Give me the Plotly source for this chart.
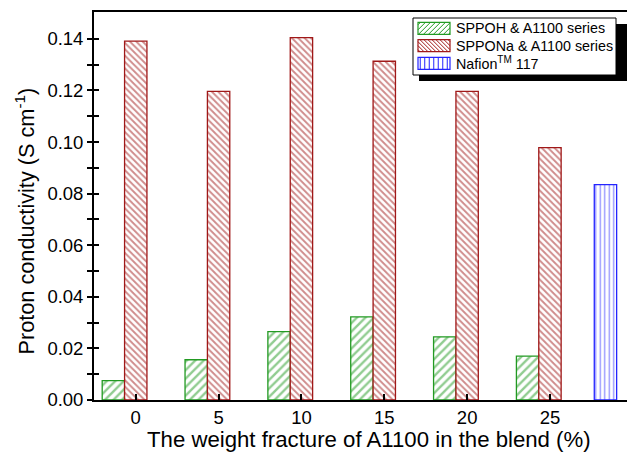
import plotly.graph_objects as go

# A1100 loading (wt%) and measured proton conductivity (S/cm)
a1100_wt = [0, 5, 10, 15, 20, 25]
sppoh = [0.0075, 0.0156, 0.0265, 0.0322, 0.0245, 0.0170]
spponA = [0.1391, 0.1196, 0.1405, 0.1313, 0.1196, 0.0978]
nafion_pos = [28.35]
nafion = [0.0835]

series_names = ["SPPOH &amp; A1100 series", "SPPONa &amp; A1100 series",
                "Nafion<sup>TM</sup> 117"]
y_ticks = [0, 0.02, 0.04, 0.06, 0.08, 0.10, 0.12, 0.14]
y_minor = [0.01, 0.03, 0.05, 0.07, 0.09, 0.11, 0.13]

BAR_W = 1.35
GREEN = "#229a22"
RED = "#a01818"
BLUE = "#2424ff"
FONT = "Liberation Sans, Arial, sans-serif"

X_RANGE = [-2.52, 29.65]
Y_RANGE = [0, 0.1504]

styles = [
    dict(color=GREEN, shape="/", size=6, solidity=0.4),
    dict(color=RED, shape="\\", size=4.5, solidity=0.42),
    dict(color=BLUE, shape="|", size=4.5, solidity=0.3),
]


def marker_for(st):
    return dict(color="white", line=dict(color=st["color"], width=1.3),
                pattern=dict(shape=st["shape"], fgcolor=st["color"],
                             bgcolor="white", size=st["size"],
                             solidity=st["solidity"]))


# ---- plot-area geometry in pixels, used to place the legend and titles ----
PLOT_L, PLOT_R, PLOT_T, PLOT_B = 94, 627, 12, 400


def fx(px):
    return (px - PLOT_L) / (PLOT_R - PLOT_L)


def fy(py):
    return (PLOT_B - py) / (PLOT_B - PLOT_T)


def hatch_path(x0, y0, x1, y1, shape, step):
    """SVG path (paper coords) of hatch lines clipped to a pixel rectangle."""
    segs = []
    if shape == "|":
        x = x0 + step / 2
        while x < x1:
            segs.append(((x, y0), (x, y1)))
            x += step
    else:
        sign = 1 if shape == "/" else -1   # "/" : x + y = c ; "\" : x - y = c
        lo = x0 + sign * y0 if sign == 1 else x0 - y1
        hi = x1 + sign * y1 if sign == 1 else x1 - y0
        c = lo + step / 2
        while c < hi:
            pts = []
            for y in (y0, y1):
                x = c - sign * y
                if x0 <= x <= x1:
                    pts.append((x, y))
            for x in (x0, x1):
                y = (c - x) * sign
                if y0 <= y <= y1:
                    pts.append((x, y))
            if len(pts) >= 2:
                segs.append((pts[0], pts[-1]))
            c += step
    return " ".join(f"M{fx(a[0]):.5f},{fy(a[1]):.5f} L{fx(b[0]):.5f},{fy(b[1]):.5f}"
                    for a, b in segs)


fig = go.Figure()

fig.add_trace(go.Bar(x=a1100_wt, y=sppoh, width=BAR_W, offset=-1.5 * BAR_W,
                     name=series_names[0], marker=marker_for(styles[0]),
                     showlegend=False))
fig.add_trace(go.Bar(x=a1100_wt, y=spponA, width=BAR_W, offset=-0.5 * BAR_W,
                     name=series_names[1], marker=marker_for(styles[1]),
                     showlegend=False))
fig.add_trace(go.Bar(x=nafion_pos, y=nafion, width=BAR_W, offset=-0.5 * BAR_W,
                     name=series_names[2], marker=marker_for(styles[2]),
                     showlegend=False))

# second y axis only to draw the inward half of the crossing ticks
fig.add_trace(go.Scatter(x=[None], y=[None], yaxis="y2", showlegend=False,
                         hoverinfo="skip"))

# legend: drop shadow, white framed box, hatched swatches and labels
BX0, BX1, BY0, BY1, SH = 413, 616, 18, 75, 6
fig.add_shape(type="rect", xref="paper", yref="paper",
              x0=fx(BX0 + SH), x1=fx(627), y0=fy(BY1 + SH), y1=fy(BY0 + SH),
              fillcolor="black", line=dict(width=0), layer="above")
fig.add_shape(type="rect", xref="paper", yref="paper",
              x0=fx(BX0), x1=fx(BX1), y0=fy(BY1), y1=fy(BY0),
              fillcolor="white", line=dict(color="black", width=1),
              layer="above")

SW_X0, SW_X1, SW_H = 418, 450, 12
hatch_step = {"/": 5, "\\": 4, "|": 4.5}
row_py = [28.3, 45.7, 63.3]
for name, st, py in zip(series_names, styles, row_py):
    top, bot = py - SW_H / 2, py + SW_H / 2
    fig.add_shape(type="rect", xref="paper", yref="paper",
                  x0=fx(SW_X0), x1=fx(SW_X1), y0=fy(bot), y1=fy(top),
                  fillcolor="white", line=dict(color=st["color"], width=1.2),
                  layer="above")
    fig.add_shape(type="path", xref="paper", yref="paper",
                  path=hatch_path(SW_X0, top, SW_X1, bot, st["shape"],
                                  hatch_step[st["shape"]]),
                  line=dict(color=st["color"], width=1), layer="above")
    fig.add_annotation(x=fx(454), y=fy(py), xref="paper", yref="paper",
                       text=name, showarrow=False,
                       xanchor="left", yanchor="middle",
                       font=dict(size=14.3, family=FONT, color="black"))

# axis titles
fig.add_annotation(x=fx(368.5), y=fy(439), xref="paper", yref="paper",
                   text="The weight fracture of A1100 in the blend (%)",
                   showarrow=False, xanchor="center", yanchor="middle",
                   font=dict(size=22.2, family=FONT, color="black"))
fig.add_annotation(x=fx(24.5), y=fy(221), xref="paper", yref="paper",
                   text="Proton conductivity (S cm<sup>-1</sup>)",
                   textangle=-90, showarrow=False,
                   xanchor="center", yanchor="middle",
                   font=dict(size=21.7, family=FONT, color="black"))

fig.update_layout(
    width=627, height=456,
    margin=dict(l=PLOT_L, r=627 - PLOT_R, t=PLOT_T, b=456 - PLOT_B),
    paper_bgcolor="white", plot_bgcolor="rgba(0,0,0,0)",
    barmode="overlay",
    font=dict(family=FONT, color="black", size=18.5),
    showlegend=False,
    xaxis=dict(
        range=X_RANGE,
        tickmode="array", tickvals=a1100_wt,
        ticktext=[str(v) for v in a1100_wt],
        ticks="inside", ticklen=6, tickwidth=1.5, tickcolor="black",
        showline=True, linecolor="black", linewidth=1.8, mirror=True,
        showgrid=False, zeroline=False,
        tickfont=dict(size=18.5),
    ),
    yaxis=dict(
        range=Y_RANGE,
        tickmode="array", tickvals=y_ticks,
        ticktext=[f"{v:.2f}" for v in y_ticks],
        ticks="outside", ticklen=5, tickwidth=1.5, tickcolor="black",
        minor=dict(tickvals=y_minor, ticks="outside", ticklen=5,
                   tickwidth=1.5, tickcolor="black"),
        showline=True, linecolor="black", linewidth=1.8,
        showgrid=False, zeroline=False,
        tickfont=dict(size=18.5),
    ),
    yaxis2=dict(
        overlaying="y", side="left", matches="y",
        tickmode="array", tickvals=y_ticks, showticklabels=False,
        ticks="inside", ticklen=5, tickwidth=1.5, tickcolor="black",
        minor=dict(tickvals=y_minor, ticks="inside", ticklen=5,
                   tickwidth=1.5, tickcolor="black"),
        showline=False, showgrid=False, zeroline=False,
    ),
)

fig.write_html("out.html")
